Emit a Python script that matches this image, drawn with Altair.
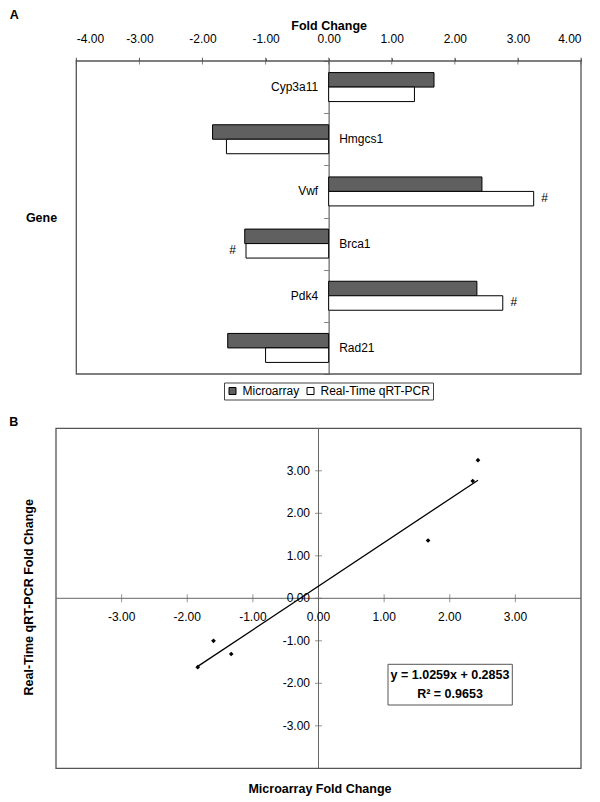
import altair as alt
import pandas as pd

# ---------------- data ----------------
genes = ["Cyp3a11", "Hmgcs1", "Vwf", "Brca1", "Pdk4", "Rad21"]
microarray = [1.67, -1.84, 2.43, -1.33, 2.35, -1.60]
rt_pcr = [1.36, -1.62, 3.25, -1.31, 2.76, -1.00]
series_names = ["Microarray", "Real-Time qRT-PCR"]
significant = ["Vwf", "Brca1", "Pdk4"]
fold_ticks = [-4, -3, -2, -1, 0, 1, 2, 3, 4]
scatter_ticks = [-3, -2, -1, 0, 1, 2, 3]
axis_extent = [-4, 4]
equation_lines = ["y = 1.0259x + 0.2853", "R² = 0.9653"]

FONT = "Liberation Sans"
FRAME = "#555555"
HYPHEN_LABEL = "replace(datum.label, '\u2212', '-')"
HYPHEN_FMT = "replace(format(datum.t, '.2f'), '\u2212', '-')"

bars_df = pd.DataFrame({
    "gene": genes * 2,
    "series": [series_names[0]] * len(genes) + [series_names[1]] * len(genes),
    "value": microarray + rt_pcr,
})
bars_df["sig"] = [g in significant for g in bars_df["gene"]]
labels_df = pd.DataFrame({"gene": genes, "micro": microarray})
frame_df = pd.DataFrame({"lo": [axis_extent[0]], "hi": [axis_extent[1]], "zero": [0]})
fold_df = pd.DataFrame({"t": fold_ticks})
sc_ticks_df = pd.DataFrame({"t": scatter_ticks, "zero": [0] * len(scatter_ticks)})
scatter_df = pd.DataFrame({"micro": microarray, "rt": rt_pcr})


def note(text, x, y, **kw):
    return alt.Chart(pd.DataFrame({"t": [text]})).mark_text(font=FONT, color="black", **kw).encode(
        x=alt.value(x), y=alt.value(y), text="t:N")


# ---------------- panel A ----------------
WA, HA = 525, 313
x_left = 20.3          # pixel position of -4 inside the panel
x_zero = (x_left + WA) / 2

scaleAx = alt.Scale(domain=axis_extent, range=[x_left, WA], nice=False, zero=False)
axisAx = alt.Axis(orient="top", values=fold_ticks, format=".2f", labelExpr=HYPHEN_LABEL,
                  labelFont=FONT, labelFontSize=12,
                  labelColor="black", ticks=True, tickSize=3, tickColor=FRAME, domain=False, grid=False,
                  labelPadding=13, title="Fold Change", titleFont=FONT, titleFontSize=12.5,
                  titleFontWeight="bold", titleColor="black", titleX=x_zero, titleY=-35.6,
                  titleBaseline="middle", titleAlign="center")
scaleAy = alt.Scale(domain=genes, paddingInner=0, paddingOuter=0)
axisAy = alt.Axis(orient="left", offset=-x_zero, labels=False, title=None, tickBand="extent",
                  tickSize=5, tickColor="#808080", domainColor="#808080", domainWidth=1.5, grid=False)
yoff = alt.YOffset("series:N", scale=alt.Scale(domain=series_names, paddingOuter=0.8, paddingInner=0))


def xA(field):
    return alt.X(field, type="quantitative", scale=scaleAx, axis=axisAx)


yA = alt.Y("gene:N", scale=scaleAy, axis=axisAy)

frameA = alt.Chart(frame_df).mark_rect(fillOpacity=0, stroke=FRAME, strokeWidth=1.3).encode(
    x=xA("lo"), x2="hi", y=alt.value(0), y2=alt.value(HA))

top_ticks = alt.Chart(fold_df).mark_tick(orient="vertical", size=7, thickness=1, color=FRAME).encode(
    x=xA("t"), y=alt.value(0))

bars = alt.Chart(bars_df).mark_bar(stroke="black", strokeWidth=1).encode(
    x=xA("value"), y=yA, yOffset=yoff,
    fill=alt.Fill("series:N", scale=alt.Scale(domain=series_names, range=["#606060", "#ffffff"]),
                  legend=alt.Legend(orient="none", legendX=168, legendY=321.5, direction="horizontal",
                                    title=None, symbolType="square", symbolSize=49,
                                    symbolStrokeColor="black", symbolStrokeWidth=1,
                                    labelFont=FONT, labelFontSize=12, labelColor="black",
                                    strokeColor="#444444", fillColor="white", padding=2.5,
                                    columnPadding=5, labelOffset=4)),
)

gene_pos = alt.Chart(labels_df).transform_filter("datum.micro > 0").transform_calculate(zero="0").mark_text(
    align="right", baseline="middle", dx=-10.5, font=FONT, fontSize=12, color="black").encode(
    x=xA("zero"), y=yA, text="gene:N")
gene_neg = alt.Chart(labels_df).transform_filter("datum.micro < 0").transform_calculate(zero="0").mark_text(
    align="left", baseline="middle", dx=10.5, font=FONT, fontSize=12, color="black").encode(
    x=xA("zero"), y=yA, text="gene:N")

sig_base = alt.Chart(bars_df).transform_filter(
    alt.datum.sig & (alt.datum.series == series_names[1]))
sig_pos = sig_base.transform_filter("datum.value > 0").mark_text(
    align="center", baseline="middle", dx=11, dy=-1, font=FONT, fontSize=12, color="black").encode(
    x=xA("value"), y=yA, yOffset=yoff, text=alt.value("#"))
sig_neg = sig_base.transform_filter("datum.value < 0").mark_text(
    align="center", baseline="middle", dx=-13.5, dy=-1, font=FONT, fontSize=12, color="black").encode(
    x=xA("value"), y=yA, yOffset=yoff, text=alt.value("#"))

panelA = alt.layer(
    frameA, bars, gene_pos, gene_neg, sig_pos, sig_neg, top_ticks,
    note("Gene", -14.5, 156.5, fontSize=12.5, fontWeight="bold", align="center", baseline="middle"),
    note("A", -46.3, -42, fontSize=12.5, fontWeight="bold", align="left", baseline="alphabetic"),
).properties(width=WA, height=HA)

# ---------------- panel B ----------------
WB, HB = 525, 340
scaleB = alt.Scale(domain=axis_extent, nice=False, zero=False)


def xB(field):
    return alt.X(field, type="quantitative", scale=scaleB, axis=None)


def yB(field):
    return alt.Y(field, type="quantitative", scale=scaleB, axis=None)


frameB = alt.Chart(frame_df).mark_rect(fillOpacity=0, stroke=FRAME, strokeWidth=1.3).encode(
    x=xB("lo"), x2="hi", y=yB("lo"), y2="hi")
vline = alt.Chart(frame_df).mark_rule(color="#666666", strokeWidth=1).encode(
    x=xB("zero"), y=yB("lo"), y2="hi")
hline = alt.Chart(frame_df).mark_rule(color="#666666", strokeWidth=1).encode(
    y=yB("zero"), x=xB("lo"), x2="hi")
xticks = alt.Chart(sc_ticks_df).mark_tick(orient="vertical", size=8, thickness=1, color="#666666").encode(
    x=xB("t"), y=yB("zero"))
yticks = alt.Chart(sc_ticks_df).mark_tick(orient="horizontal", size=7, thickness=1, color="#666666").encode(
    y=yB("t"), x=xB("zero"))
xlabels = alt.Chart(sc_ticks_df).transform_calculate(lab=HYPHEN_FMT).mark_text(
    align="center", baseline="middle", dy=18.5, font=FONT, fontSize=12, color="black").encode(
    x=xB("t"), y=yB("zero"), text="lab:N")
ylabels = alt.Chart(sc_ticks_df).transform_calculate(lab=HYPHEN_FMT).mark_text(
    align="right", baseline="middle", dx=-8.5, font=FONT, fontSize=12, color="black").encode(
    y=yB("t"), x=xB("zero"), text="lab:N")

points = alt.Chart(scatter_df).mark_point(shape="diamond", filled=True, size=22, color="black", opacity=1).encode(
    x=xB("micro"), y=yB("rt"))
trend = alt.Chart(scatter_df).transform_regression("micro", "rt").mark_line(color="black", strokeWidth=1.3).encode(
    x=xB("micro"), y=yB("rt"))

eq_box = alt.Chart(pd.DataFrame({"t": [""]})).mark_rect(fill="white", stroke=FRAME, strokeWidth=1).encode(
    x=alt.value(332), x2=alt.value(456.3), y=alt.value(236), y2=alt.value(276.7))

panelB = alt.layer(
    frameB, vline, hline, xticks, yticks, xlabels, ylabels, trend, points, eq_box,
    note(equation_lines[0], 394, 247, fontSize=12.5, fontWeight="bold", align="center", baseline="middle"),
    note(equation_lines[1], 394, 266, fontSize=12.5, fontWeight="bold", align="center", baseline="middle"),
    note("Real-Time qRT-PCR Fold Change", -27, 169, fontSize=12.5, fontWeight="bold", align="center",
         baseline="middle", angle=270),
    note("Microarray Fold Change", 264, 361, fontSize=12.5, fontWeight="bold", align="center", baseline="middle"),
    note("B", -46.7, -2.3, fontSize=12.5, fontWeight="bold", align="left", baseline="alphabetic"),
).properties(width=WB, height=HB)

chart = alt.vconcat(panelA, panelB, spacing=54.3, bounds="flush").properties(
    padding=0, background="white"
).configure_view(stroke="transparent")

chart.save("out.html", embed_options={"renderer": "svg", "actions": False})
